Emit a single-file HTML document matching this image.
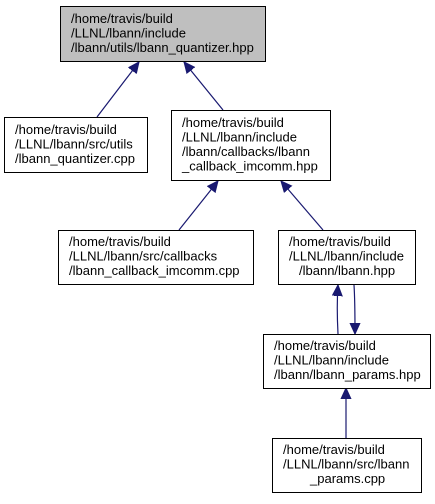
<!DOCTYPE html>
<html><head><style>
body{margin:0;background:#fff;width:435px;height:499px;overflow:hidden}
svg text{font-family:"Liberation Sans",Arial,sans-serif;font-size:13px;fill:#000}
</style></head><body>
<svg width="435" height="499" viewBox="0 0 435 499" xmlns="http://www.w3.org/2000/svg">
<defs><marker id="a" markerWidth="12" markerHeight="12" refX="11" refY="5.5" orient="auto" markerUnits="userSpaceOnUse"><path d="M0,0.5 L11,5.5 L0,10.5 z" fill="#191970" stroke="#191970"/></marker></defs>
<g stroke="#191970" stroke-width="1.2" fill="none">
<line x1="97" y1="117" x2="139" y2="62" marker-end="url(#a)"/>
<line x1="223" y1="110" x2="184" y2="62" marker-end="url(#a)"/>
<line x1="179" y1="230" x2="218" y2="181" marker-end="url(#a)"/>
<line x1="323" y1="230" x2="281" y2="181" marker-end="url(#a)"/>
<path d="M338,334 C337,315 337,300 338,285" marker-end="url(#a)"/>
<path d="M354,285 C355,300 355,315 355,334" marker-end="url(#a)"/>
<line x1="346" y1="438" x2="346" y2="388" marker-end="url(#a)"/>
</g>
<g stroke="#000" stroke-width="1">
<rect x="60.5" y="6.5" width="205" height="55" fill="#bfbfbf"/>
<rect x="4.5" y="117.5" width="143" height="55" fill="#fff"/>
<rect x="171.5" y="110.5" width="159" height="70" fill="#fff"/>
<rect x="58.5" y="230.5" width="195" height="54" fill="#fff"/>
<rect x="278.5" y="230.5" width="137" height="54" fill="#fff"/>
<rect x="263.5" y="334.5" width="167" height="54" fill="#fff"/>
<rect x="272.5" y="438.5" width="149" height="54" fill="#fff"/>
</g>
<text x="71" y="23">/home/travis/build</text>
<text x="71" y="37.5">/LLNL/lbann/include</text>
<text x="71" y="52">/lbann/utils/lbann_quantizer.hpp</text>
<text x="15" y="134">/home/travis/build</text>
<text x="15" y="148.5">/LLNL/lbann/src/utils</text>
<text x="15" y="163">/lbann_quantizer.cpp</text>
<text x="182" y="127">/home/travis/build</text>
<text x="182" y="141.5">/LLNL/lbann/include</text>
<text x="182" y="156">/lbann/callbacks/lbann</text>
<text x="182" y="170.5">_callback_imcomm.hpp</text>
<text x="69" y="246">/home/travis/build</text>
<text x="69" y="260.5">/LLNL/lbann/src/callbacks</text>
<text x="69" y="275">/lbann_callback_imcomm.cpp</text>
<text x="289" y="246">/home/travis/build</text>
<text x="289" y="260.5">/LLNL/lbann/include</text>
<text x="299" y="275">/lbann/lbann.hpp</text>
<text x="274" y="350">/home/travis/build</text>
<text x="274" y="364.5">/LLNL/lbann/include</text>
<text x="274" y="379">/lbann/lbann_params.hpp</text>
<text x="283" y="454">/home/travis/build</text>
<text x="283" y="468.5">/LLNL/lbann/src/lbann</text>
<text x="310" y="483">_params.cpp</text>
</svg>
</body></html>
